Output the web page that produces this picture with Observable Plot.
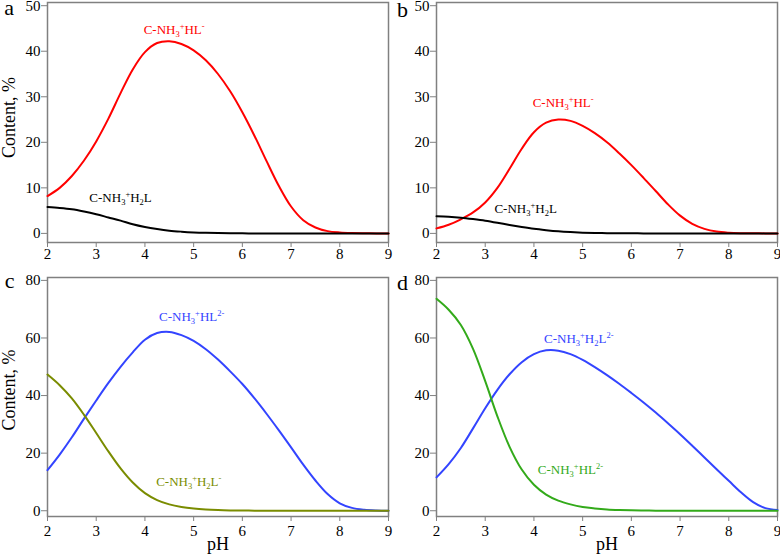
<!DOCTYPE html>
<html><head><meta charset="utf-8">
<script src="https://cdn.jsdelivr.net/npm/d3@7"></script>
<script src="https://cdn.jsdelivr.net/npm/@observablehq/plot@0.6"></script>
<style>
body{margin:0;background:#fff;}
#wrap{position:relative;width:780px;height:554px;overflow:hidden;}
.panel{position:absolute;}
</style></head><body><div id="wrap"></div>
<script>
const pH = [2,2.25,2.5,2.75,3,3.25,3.5,3.75,4,4.25,4.5,4.75,5,5.25,5.5,5.75,6,6.25,6.5,6.75,7,7.25,7.5,7.75,8,8.25,8.5,8.75,9];
const xTicks = [2,3,4,5,6,7,8,9];
const yTicksTop = [0,10,20,30,40,50];
const yTicksBottom = [0,20,40,60,80];

// panel a
const aHL  = [8.2,10.0,12.6,16.0,20.2,25.2,30.8,36.0,39.8,41.8,42.2,41.6,40.2,38.0,35.0,31.2,26.6,21.4,15.8,10.4,5.9,2.9,1.3,0.5,0.2,0.07,0.02,0,0];
const aH2L = [5.8,5.6,5.3,4.8,4.2,3.5,2.8,2.0,1.4,0.95,0.6,0.38,0.22,0.12,0.06,0.03,0.01,0,0,0,0,0,0,0,0,0,0,0,0];
// panel b
const bHL  = [1.1,1.9,3.1,4.6,6.8,10.0,14.2,18.6,22.2,24.3,25.0,24.7,23.6,22.0,20.0,17.6,15.0,12.2,9.3,6.4,3.9,2.1,1.0,0.4,0.15,0.05,0.02,0,0];
const bH2L = [3.75,3.65,3.45,3.15,2.8,2.35,1.85,1.4,1.0,0.7,0.45,0.28,0.16,0.09,0.05,0.02,0.01,0,0,0,0,0,0,0,0,0,0,0,0];
// panel c
const cHL2 = [14.1,19.5,25.5,32.0,38.3,44.4,50.0,55.0,59.4,61.7,62.1,61.0,59.0,56.1,52.5,48.4,44.0,39.0,33.6,27.9,22.0,16.0,10.5,5.8,2.6,1.0,0.35,0.1,0.03];
const cH2L = [47.3,43.6,39.0,33.3,27.0,20.6,14.7,9.8,6.1,3.7,2.2,1.3,0.75,0.42,0.23,0.12,0.06,0.03,0,0,0,0,0,0,0,0,0,0,0];
// panel d
const dH2L2 = [11.6,16.2,21.8,28.6,35.6,42.0,47.4,51.6,54.4,55.7,55.6,54.4,52.4,49.9,47.1,44.1,40.9,37.6,34.1,30.4,26.6,22.6,18.5,14.4,10.4,6.4,3.0,0.9,0.3];
const dHL2  = [73.6,69.8,64.5,56.2,45.0,32.8,22.2,14.3,9.0,5.6,3.5,2.2,1.3,0.8,0.45,0.26,0.15,0.08,0.04,0,0,0,0,0,0,0,0,0,0];

const labelsA = [{x:4.6,y:44.8,t:"C-NH_{3}^{+}HL^{-}",c:"#ff0000"},{x:3.5,y:7.7,t:"C-NH_{3}^{+}H_{2}L",c:"#000000"}];
const labelsB = [{x:4.6,y:28.6,t:"C-NH_{3}^{+}HL^{-}",c:"#ff0000"},{x:3.83,y:5.5,t:"C-NH_{3}^{+}H_{2}L",c:"#000000"}];
const labelsC = [{x:4.96,y:67.3,t:"C-NH_{3}^{+}HL^{2-}",c:"#3344ff"},{x:4.9,y:10.2,t:"C-NH_{3}^{+}H_{2}L^{-}",c:"#7a8c00"}];
const labelsD = [{x:4.92,y:59.7,t:"C-NH_{3}^{+}H_{2}L^{2-}",c:"#3344ff"},{x:4.75,y:14.3,t:"C-NH_{3}^{+}HL^{2-}",c:"#33aa1a"}];

const FONT = "Liberation Serif";
const wrap = document.getElementById("wrap");

function richify(svg) {
  d3.select(svg).selectAll("text").each(function() {
    const s = this.textContent;
    if (!/[_^]\{/.test(s)) return;
    const el = d3.select(this);
    el.text(null);
    const re = /([_^])\{([^}]*)\}|([^_^]+)/g;
    let m, shift = 0;
    while ((m = re.exec(s))) {
      const t = el.append("tspan");
      let target = 0, size = null;
      if (m[1] === "_") { target = 3; size = 8.5; t.text(m[2]); }
      else if (m[1] === "^") { target = -5; size = 8.5; t.text(m[2]); }
      else t.text(m[3]);
      t.attr("dy", target - shift); shift = target;
      if (size) t.attr("font-size", size);
    }
  });
}

function panel({left, top, width, height, mL, mR, mT, mB, yDomain, yTicks, xPad, series, labels, letter, letterDx, letterDy, ylabel, ylabelDy, xlabel}) {
  const marks = [
    Plot.frame({stroke:"#808080", strokeWidth:1.5}),
    Plot.axisX({ticks:xTicks, tickSize:5, tickPadding:xPad, stroke:"#808080", fill:"#000", fontSize:15, label:null, tickFormat:d=>String(d)}),
    Plot.axisY({ticks:yTicks, tickSize:6, tickPadding:1, stroke:"#808080", fill:"#000", fontSize:15, label:null, tickFormat:d=>String(d)}),
  ];
  for (const s of series) {
    const data = pH.map((x,i)=>({x, y:s.values[i]}));
    marks.push(Plot.line(data, {x:"x", y:"y", stroke:s.color, strokeWidth:2, curve:"catmull-rom"}));
  }
  marks.push(Plot.text(labels, {x:"x", y:"y", text:"t", fill:"c", fontSize:13, textAnchor:"middle"}));
  marks.push(Plot.text([letter], {frameAnchor:"top-left", text:d=>d, dx:letterDx, dy:letterDy, lineAnchor:"bottom", textAnchor:"middle", fontSize:22, fill:"#000"}));
  if (ylabel) marks.push(Plot.text([ylabel], {frameAnchor:"left", text:d=>d, rotate:-90, dx:-38, dy:ylabelDy, textAnchor:"middle", fontSize:18, fill:"#000"}));
  if (xlabel) marks.push(Plot.text([xlabel], {frameAnchor:"bottom", text:d=>d, dy:33, lineAnchor:"bottom", textAnchor:"middle", fontSize:18, fill:"#000"}));
  const svg = Plot.plot({
    width, height, marginLeft:mL, marginRight:mR, marginTop:mT, marginBottom:mB,
    x:{domain:[2,9]}, y:{domain:yDomain},
    style:{background:"transparent", overflow:"visible"},
    marks
  });
  svg.style.fontFamily = FONT;
  d3.select(svg).selectAll("text").attr("font-family", FONT).style("font-family", FONT);
  richify(svg);
  svg.classList.add("panel");
  svg.style.left = left + "px"; svg.style.top = top + "px";
  wrap.appendChild(svg);
}

panel({left:0, top:0, width:390, height:265, mL:47, mR:2, mT:2, mB:23, yDomain:[-2,50.7], yTicks:yTicksTop, xPad:1,
  series:[{values:aHL,color:"#ff0000"},{values:aH2L,color:"#000000"}], labels:labelsA,
  letter:"a", letterDx:-38.5, letterDy:12, ylabel:"Content, %", ylabelDy:-5});
panel({left:390, top:0, width:390, height:265, mL:46, mR:3, mT:2, mB:23, yDomain:[-2,50.7], yTicks:yTicksTop, xPad:1,
  series:[{values:bHL,color:"#ff0000"},{values:bH2L,color:"#000000"}], labels:labelsB,
  letter:"b", letterDx:-34, letterDy:14});
panel({left:0, top:265, width:390, height:289, mL:47, mR:2, mT:12, mB:38, yDomain:[-2,81], yTicks:yTicksBottom, xPad:4,
  series:[{values:cHL2,color:"#3344ff"},{values:cH2L,color:"#7a8c00"}], labels:labelsC,
  letter:"c", letterDx:-38, letterDy:10, ylabel:"Content, %", ylabelDy:-7, xlabel:"pH"});
panel({left:390, top:265, width:390, height:289, mL:46, mR:3, mT:12, mB:38, yDomain:[-2,81], yTicks:yTicksBottom, xPad:4,
  series:[{values:dH2L2,color:"#3344ff"},{values:dHL2,color:"#33aa1a"}], labels:labelsD,
  letter:"d", letterDx:-34, letterDy:12, xlabel:"pH"});
</script></body></html>
